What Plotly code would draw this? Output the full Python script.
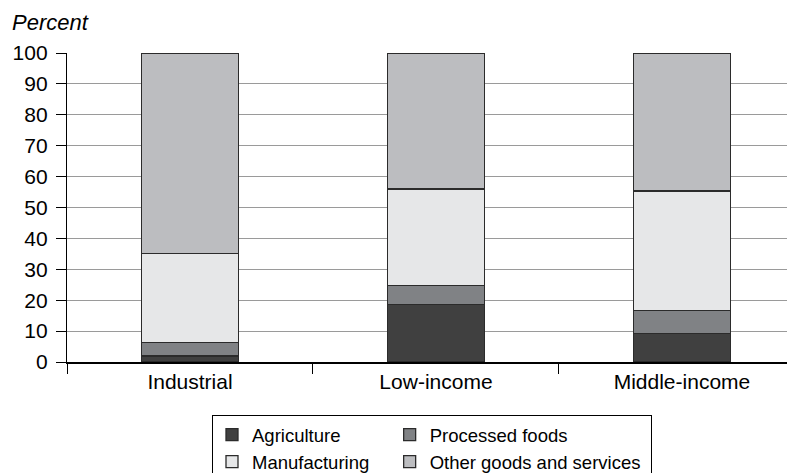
import plotly.graph_objects as go

# income groups on the x axis
groups = ["Industrial", "Low-income", "Middle-income"]

# shares in percent
agriculture = [1.9, 18.7, 9.3]
processed_foods = [4.5, 6.1, 7.3]
manufacturing = [28.8, 31.2, 38.7]
other_goods = [64.8, 44.0, 44.7]

fnt = "Liberation Sans, Arial, Helvetica, sans-serif"
pad = "\u00a0"  # a bit of extra room in the legend columns

series = [
    ("Agriculture", agriculture, "#404040", "a"),
    ("Processed foods", processed_foods, "#808285", "b"),
    ("Manufacturing" + pad * 3, manufacturing, "#e6e7e8", "a"),
    ("Other goods and services" + pad, other_goods, "#bcbdc0", "b"),
]

fig = go.Figure()
for name, vals, col, grp in series:
    fig.add_trace(go.Bar(
        x=groups, y=vals, name=name, legendgroup=grp,
        marker=dict(color=col, line=dict(color="#2b2b2b", width=1.3)),
        width=0.395,
    ))

# page has an 8px body margin, so margins are 8px smaller than measured
fig.update_layout(
    width=795, height=473,
    barmode="stack",
    plot_bgcolor="white", paper_bgcolor="white",
    margin=dict(l=59, r=0, t=45, b=119, autoexpand=False),
    font=dict(family=fnt, size=21, color="black"),
    showlegend=True,
    legend=dict(
        orientation="h", traceorder="grouped",
        yref="container", y=0.1395, yanchor="top",
        xref="container", x=0.2566, xanchor="left",
        bordercolor="black", borderwidth=1, bgcolor="white",
        font=dict(size=18.5), itemwidth=30,
    ),
    annotations=[dict(
        text="<i>Percent</i>", xref="paper", yref="paper",
        x=-0.0774, y=1.0, xanchor="left", yanchor="middle", yshift=31,
        showarrow=False, font=dict(size=22),
    )],
)

fig.update_yaxes(
    range=[0, 100], dtick=10, automargin=False,
    showgrid=True, gridcolor="#9a9a9a", gridwidth=1.2,
    showline=True, linecolor="black", linewidth=1.3,
    ticks="outside", ticklen=10, tickcolor="black",
    ticklabelstandoff=4, zeroline=False,
)
fig.update_xaxes(
    range=[-0.5, 2.492], automargin=False,
    showline=True, linecolor="black", linewidth=1.5,
    ticks="outside", tickson="boundaries", ticklen=10, tickcolor="black",
    showgrid=False,
)

fig.write_html("out.html")
